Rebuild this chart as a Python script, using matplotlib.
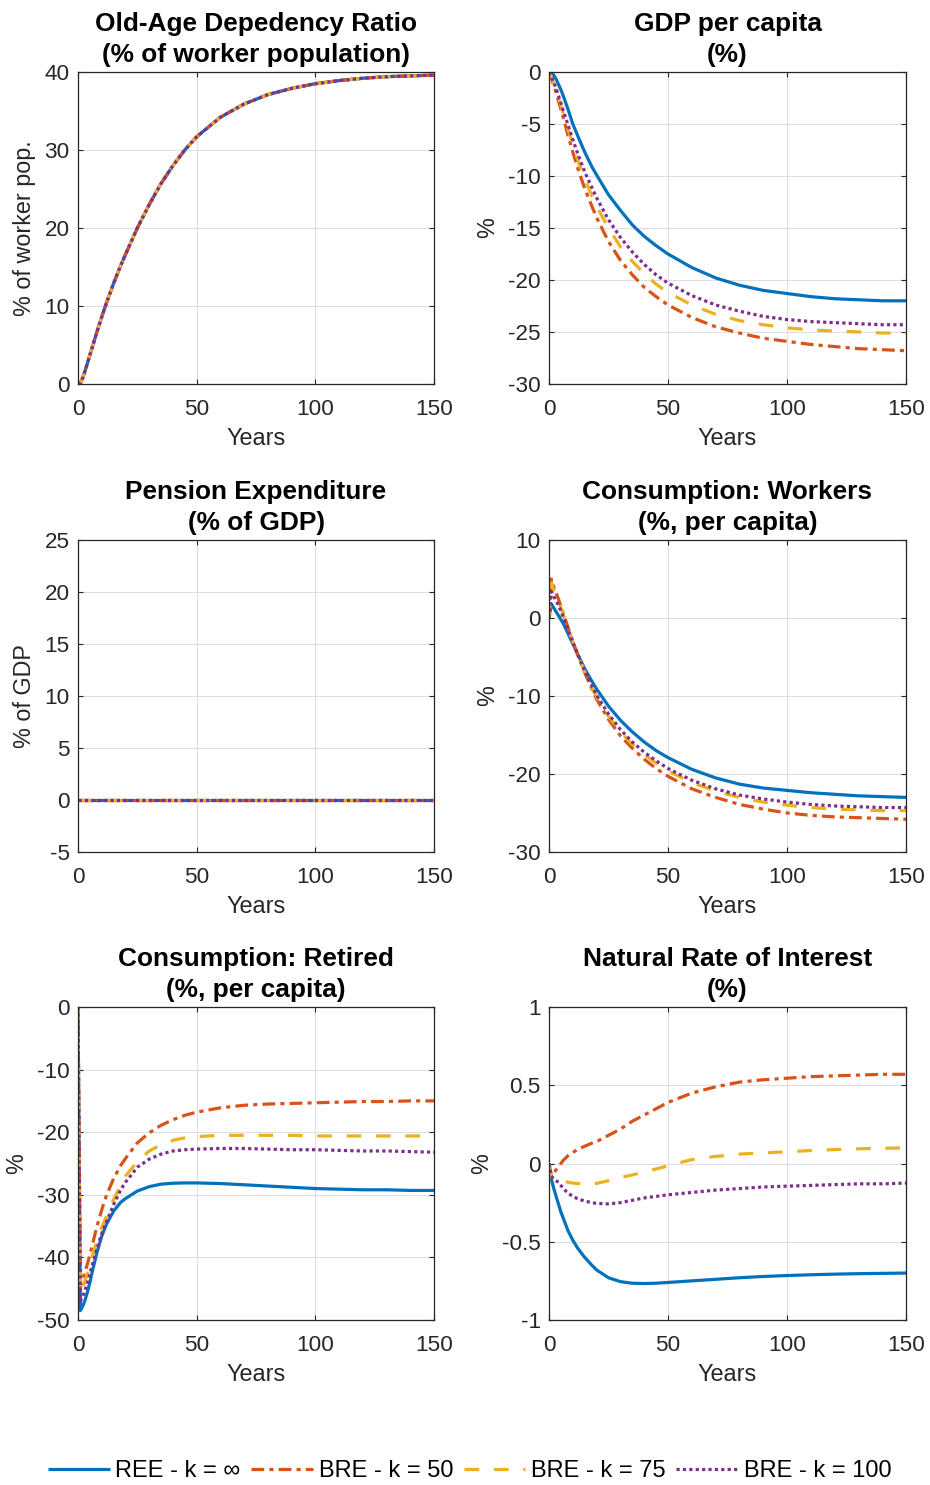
import matplotlib
matplotlib.use("Agg")
import matplotlib.pyplot as plt
from matplotlib.ticker import FixedLocator

plt.rcParams['font.family'] = ['Liberation Sans', 'DejaVu Sans']
plt.rcParams['axes.unicode_minus'] = False

# Simulation horizon (years after the shock)
years = [0, 1, 2, 3, 4, 5, 6, 8, 10, 12, 15, 18, 20, 25, 30, 35, 40, 45, 50,
         60, 70, 80, 90, 100, 110, 120, 130, 140, 150]

# Old-age dependency ratio, identical under every expectation scheme
dependency = [0, 0.1, 0.8, 1.7, 2.7, 3.7, 4.7, 6.7, 8.6, 10.4, 12.9, 15.2, 16.6, 20.0, 23.0, 25.7,
              28.0, 30.0, 31.7, 34.2, 35.9, 37.1, 37.9, 38.5, 38.9, 39.2, 39.4, 39.5, 39.6]

# Pension expenditure (% of GDP)
pension = [0.0] * len(years)

# GDP per capita (% deviation)
gdp_ree = [0, -0.1, -0.3, -0.7, -1.2, -1.7, -2.3, -3.6, -5.0, -6.1, -7.7, -9.1, -9.9, -11.8, -13.3,
           -14.7, -15.8, -16.7, -17.5, -18.8, -19.8, -20.5, -21.0, -21.3, -21.6, -21.8, -21.9, -22.0, -22.0]
gdp_k50 = [0, -0.6, -1.3, -2.0, -2.8, -3.6, -4.4, -6.1, -7.7, -9.2, -11.2, -12.9, -14.0, -16.3, -18.1,
           -19.5, -20.7, -21.6, -22.4, -23.6, -24.5, -25.1, -25.6, -25.9, -26.2, -26.4, -26.6, -26.7, -26.8]
gdp_k75 = [0, -0.5, -1.1, -1.8, -2.5, -3.2, -4.0, -5.5, -7.0, -8.4, -10.3, -11.9, -12.9, -15.0, -16.8,
           -18.2, -19.4, -20.4, -21.2, -22.4, -23.3, -23.9, -24.3, -24.6, -24.8, -24.9, -25.0, -25.1, -25.1]
gdp_k100 = [0, -0.5, -1.0, -1.6, -2.3, -3.0, -3.7, -5.1, -6.5, -7.8, -9.6, -11.1, -12.1, -14.2, -15.9,
            -17.3, -18.5, -19.5, -20.3, -21.5, -22.4, -23.0, -23.5, -23.8, -24.0, -24.1, -24.2, -24.3, -24.3]

# Consumption of workers (%, per capita)
cw_ree = [0, 1.8, 1.3, 0.8, 0.3, -0.2, -0.7, -2.0, -3.3, -4.6, -6.5, -8.1, -9.1, -11.3, -13.1, -14.6,
          -15.9, -17.0, -17.9, -19.4, -20.5, -21.3, -21.8, -22.1, -22.4, -22.6, -22.8, -22.9, -23.0]
cw_k50 = [0, 5.0, 4.0, 3.2, 2.4, 1.5, 0.6, -1.2, -3.0, -4.7, -7.0, -9.1, -10.4, -13.0, -15.1, -16.7,
          -18.1, -19.3, -20.3, -21.9, -23.0, -23.9, -24.5, -25.0, -25.3, -25.5, -25.6, -25.7, -25.8]
cw_k75 = [0, 4.5, 3.6, 2.9, 2.1, 1.3, 0.4, -1.3, -3.0, -4.6, -6.9, -8.9, -10.1, -12.6, -14.6, -16.2,
          -17.5, -18.6, -19.6, -21.1, -22.2, -23.0, -23.6, -24.0, -24.3, -24.5, -24.6, -24.7, -24.7]
cw_k100 = [0, 3.4, 2.8, 2.2, 1.6, 0.9, 0.1, -1.5, -3.1, -4.6, -6.8, -8.7, -9.9, -12.3, -14.3, -15.9,
           -17.2, -18.3, -19.3, -20.8, -21.9, -22.7, -23.2, -23.6, -23.9, -24.1, -24.2, -24.3, -24.3]

# Consumption of retirees (%, per capita)
cr_ree = [0, -48.5, -47.8, -46.8, -45.5, -44.0, -42.3, -39.2, -36.6, -34.7, -32.6, -31.2, -30.6, -29.4,
          -28.7, -28.3, -28.15, -28.1, -28.1, -28.2, -28.4, -28.6, -28.8, -29.0, -29.1, -29.2, -29.2,
          -29.3, -29.3]
cr_k50 = [0, -44.7, -43.5, -42.2, -41.0, -39.6, -38.1, -35.0, -32.4, -30.1, -27.4, -25.3, -24.2, -21.7,
          -20.1, -18.9, -18.0, -17.3, -16.8, -16.1, -15.7, -15.5, -15.4, -15.3, -15.2, -15.1, -15.1,
          -15.0, -15.0]
cr_k75 = [0, -45.7, -44.8, -43.7, -42.5, -41.2, -39.8, -37.3, -35.2, -33.4, -30.8, -28.4, -27.0, -24.7,
          -23.0, -22.0, -21.3, -20.9, -20.7, -20.5, -20.5, -20.5, -20.5, -20.6, -20.6, -20.6, -20.6,
          -20.6, -20.6]
cr_k100 = [0, -47.0, -46.2, -45.2, -44.0, -42.6, -41.2, -38.6, -36.2, -34.3, -31.6, -29.2, -28.0, -25.6,
           -24.3, -23.5, -23.0, -22.8, -22.7, -22.6, -22.6, -22.7, -22.8, -22.8, -22.9, -23.0, -23.0,
           -23.1, -23.2]

# Natural rate of interest (%)
r_ree = [0, -0.10, -0.16, -0.21, -0.26, -0.31, -0.35, -0.43, -0.49, -0.54, -0.60, -0.65, -0.68, -0.73,
         -0.755, -0.765, -0.767, -0.765, -0.76, -0.75, -0.74, -0.73, -0.722, -0.716, -0.711, -0.707,
         -0.704, -0.702, -0.70]
r_k50 = [0, -0.08, -0.06, -0.04, -0.02, 0.0, 0.02, 0.05, 0.07, 0.09, 0.11, 0.13, 0.14, 0.18, 0.22,
         0.27, 0.31, 0.35, 0.39, 0.45, 0.49, 0.52, 0.535, 0.545, 0.555, 0.56, 0.565, 0.57, 0.57]
r_k75 = [0, -0.09, -0.10, -0.10, -0.105, -0.108, -0.11, -0.12, -0.125, -0.128, -0.13, -0.129, -0.127,
         -0.11, -0.09, -0.073, -0.055, -0.035, -0.015, 0.025, 0.045, 0.06, 0.068, 0.075, 0.083, 0.089,
         0.094, 0.097, 0.10]
r_k100 = [0, -0.08, -0.10, -0.11, -0.12, -0.14, -0.16, -0.19, -0.21, -0.225, -0.24, -0.25, -0.255,
          -0.258, -0.25, -0.235, -0.22, -0.21, -0.20, -0.185, -0.17, -0.16, -0.15, -0.145, -0.14,
          -0.135, -0.13, -0.13, -0.125]

series_labels = ['REE - k = \u221e', 'BRE - k = 50', 'BRE - k = 75', 'BRE - k = 100']
colors = ['#0072BD', '#D95319', '#EDB120', '#7E2F8E']
styles = [dict(linestyle='-'),
          dict(linestyle=(0, (4.0, 1.6, 1.3, 1.6))),
          dict(linestyle=(0, (4.6, 4.6))),
          dict(linestyle=(0, (1.0, 1.0)))]

panels = [
    dict(title='Old-Age Depedency Ratio\n(% of worker population)', ylabel='% of worker pop.',
         data=[dependency] * 4, ylim=(0, 40), yticks=[0, 10, 20, 30, 40]),
    dict(title='GDP per capita\n(%)', ylabel='%',
         data=[gdp_ree, gdp_k50, gdp_k75, gdp_k100], ylim=(-30, 0),
         yticks=[-30, -25, -20, -15, -10, -5, 0]),
    dict(title='Pension Expenditure\n(% of GDP)', ylabel='% of GDP',
         data=[pension] * 4, ylim=(-5, 25), yticks=[-5, 0, 5, 10, 15, 20, 25]),
    dict(title='Consumption: Workers\n(%, per capita)', ylabel='%',
         data=[cw_ree, cw_k50, cw_k75, cw_k100], ylim=(-30, 10), yticks=[-30, -20, -10, 0, 10]),
    dict(title='Consumption: Retired\n(%, per capita)', ylabel='%',
         data=[cr_ree, cr_k50, cr_k75, cr_k100], ylim=(-50, 0),
         yticks=[-50, -40, -30, -20, -10, 0]),
    dict(title='Natural Rate of Interest\n(%)', ylabel='%',
         data=[r_ree, r_k50, r_k75, r_k100], ylim=(-1, 1), yticks=[-1, -0.5, 0, 0.5, 1]),
]

W, H = 930, 1485
fig = plt.figure(figsize=(W / 100, H / 100), dpi=100)

col_x = [(78, 434), (549, 906)]
row_y = [(72, 384), (540, 852), (1007, 1320)]

TICK_FS = 16.2
LABEL_FS = 16.8
TITLE_FS = 18.9
LEGEND_FS = 17.0
INK = '#262626'

handles = []
for i, p in enumerate(panels):
    r, c = divmod(i, 2)
    x0, x1 = col_x[c]
    y0, y1 = row_y[r]
    ax = fig.add_axes([x0 / W, 1 - y1 / H, (x1 - x0) / W, (y1 - y0) / H])
    for k in range(4):
        ln, = ax.plot(years, p['data'][k], color=colors[k], linewidth=2.3,
                      solid_capstyle='butt', dash_capstyle='butt', **styles[k])
        if i == 1:
            handles.append(ln)
    ax.set_xlim(0, 150)
    ax.set_ylim(*p['ylim'])
    ax.xaxis.set_major_locator(FixedLocator([0, 50, 100, 150]))
    ax.yaxis.set_major_locator(FixedLocator(p['yticks']))
    ax.set_xticklabels(['%g' % v for v in [0, 50, 100, 150]])
    ax.set_yticklabels(['%g' % v for v in p['yticks']])
    ax.grid(True, color='#dfdfdf', linewidth=0.8)
    ax.set_axisbelow(True)
    ax.tick_params(direction='in', length=3.5, width=0.8, color=INK, labelcolor=INK,
                   labelsize=TICK_FS, top=True, right=True)
    ax.tick_params(axis='x', pad=11)
    ax.tick_params(axis='y', pad=6)
    for s in ax.spines.values():
        s.set_color(INK)
        s.set_linewidth(0.9)
    ax.set_xlabel('Years', fontsize=LABEL_FS, color=INK, labelpad=5)
    ax.set_ylabel(p['ylabel'], fontsize=LABEL_FS, color=INK, labelpad=6)
    ax.set_title(p['title'], fontsize=TITLE_FS, fontweight='bold', color='black',
                 pad=7, linespacing=1.38)

fig.legend(handles, series_labels, loc='center', bbox_to_anchor=(0.505, 1 - 1471 / H),
           ncol=4, frameon=False, fontsize=LEGEND_FS, handlelength=2.6, handletextpad=0.25,
           columnspacing=0.45, borderpad=0.0, labelcolor='black')

fig.savefig('out.png', dpi=100, facecolor='white')
